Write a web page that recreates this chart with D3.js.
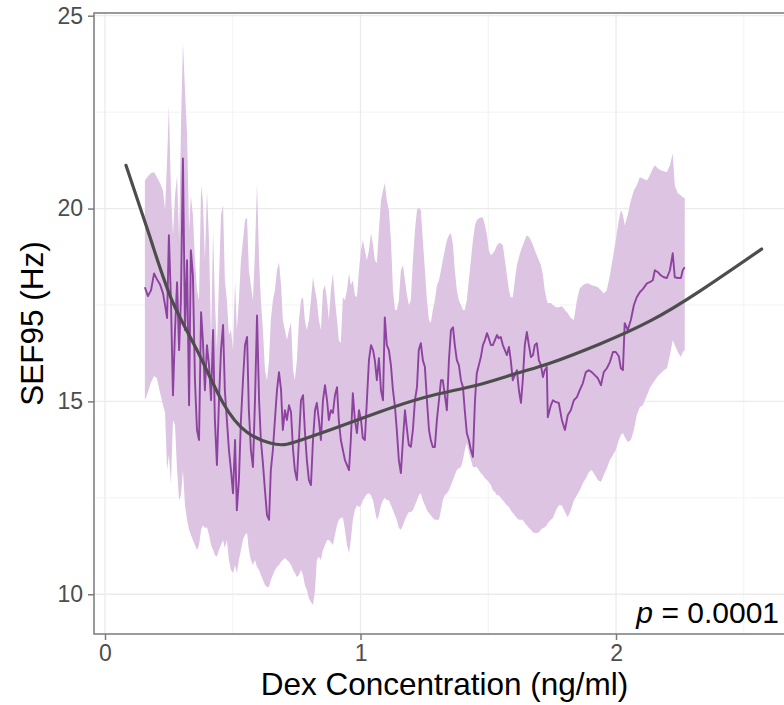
<!DOCTYPE html>
<html>
<head>
<meta charset="utf-8">
<script src="https://cdn.jsdelivr.net/npm/d3@7"></script>
<style>
  body { margin: 0; background: #fff; }
  svg { display: block; font-family: "Liberation Sans", Arial, Helvetica, sans-serif; }
</style>
</head>
<body>
<svg width="784" height="705"></svg>
<script>
// running SEF95 vs Dex concentration, with its band
var conc = [
  0.156, 0.168, 0.180, 0.192, 0.203, 0.215, 0.227, 0.235, 0.243, 0.250,
  0.258, 0.266, 0.274, 0.282, 0.290, 0.297, 0.305, 0.313, 0.321, 0.329,
  0.336, 0.344, 0.352, 0.360, 0.368, 0.376, 0.383, 0.391, 0.399, 0.407,
  0.415, 0.423, 0.430, 0.438, 0.446, 0.454, 0.462, 0.469, 0.477, 0.485,
  0.493, 0.501, 0.509, 0.516, 0.524, 0.532, 0.540, 0.548, 0.556, 0.563,
  0.571, 0.579, 0.587, 0.595, 0.603, 0.610, 0.618, 0.626, 0.634, 0.642,
  0.649, 0.657, 0.665, 0.673, 0.681, 0.689, 0.696, 0.704, 0.712, 0.720,
  0.728, 0.736, 0.743, 0.751, 0.759, 0.767, 0.775, 0.782, 0.790, 0.798,
  0.806, 0.814, 0.822, 0.829, 0.837, 0.845, 0.853, 0.861, 0.869, 0.876,
  0.884, 0.892, 0.900, 0.908, 0.915, 0.923, 0.931, 0.939, 0.947, 0.955,
  0.962, 0.970, 0.978, 0.986, 0.994, 1.002, 1.009, 1.017, 1.025, 1.033,
  1.041, 1.049, 1.056, 1.064, 1.072, 1.080, 1.088, 1.095, 1.103, 1.111,
  1.119, 1.127, 1.135, 1.142, 1.150, 1.158, 1.166, 1.174, 1.182, 1.189,
  1.197, 1.205, 1.213, 1.221, 1.228, 1.236, 1.244, 1.252, 1.260, 1.268,
  1.275, 1.283, 1.291, 1.299, 1.307, 1.315, 1.322, 1.330, 1.338, 1.346,
  1.354, 1.362, 1.369, 1.377, 1.385, 1.393, 1.401, 1.408, 1.416, 1.424,
  1.432, 1.440, 1.448, 1.455, 1.463, 1.471, 1.479, 1.487, 1.495, 1.502,
  1.510, 1.518, 1.526, 1.534, 1.541, 1.549, 1.557, 1.565, 1.573, 1.581,
  1.588, 1.596, 1.604, 1.612, 1.620, 1.628, 1.635, 1.643, 1.651, 1.659,
  1.667, 1.675, 1.682, 1.690, 1.698, 1.706, 1.714, 1.721, 1.729, 1.733,
  1.745, 1.753, 1.765, 1.776, 1.788, 1.800, 1.811, 1.823, 1.835, 1.847,
  1.858, 1.870, 1.882, 1.894, 1.905, 1.917, 1.929, 1.941, 1.952, 1.964,
  1.976, 1.988, 1.999, 2.011, 2.019, 2.027, 2.034, 2.046, 2.058, 2.070,
  2.081, 2.093, 2.105, 2.121, 2.132, 2.144, 2.152, 2.164, 2.175, 2.187,
  2.199, 2.211, 2.222, 2.230, 2.242, 2.254, 2.261, 2.269
];

var sef = [
  17.96, 17.73, 17.88, 18.32, 18.17, 18.04, 17.80, 17.50, 17.16, 19.31,
  17.62, 15.16, 16.85, 18.09, 16.33, 17.62, 21.30, 16.85, 18.66, 14.90,
  18.92, 18.27, 15.55, 14.26, 14.00, 17.31, 16.59, 15.29, 16.46, 15.94,
  15.03, 16.85, 14.52, 13.35, 15.03, 16.33, 16.98, 15.29, 14.52, 13.74,
  13.22, 12.62, 14.00, 12.18, 12.96, 14.52, 15.55, 16.46, 16.67, 14.77,
  13.74, 13.30, 15.03, 17.23, 15.03, 14.00, 13.40, 12.70, 12.05, 11.93,
  13.22, 13.74, 14.52, 15.29, 15.76, 15.29, 14.26, 14.77, 14.52, 14.90,
  14.72, 13.74, 13.22, 12.96, 14.00, 15.03, 15.16, 14.26, 13.48, 12.96,
  12.83, 14.00, 14.77, 14.96, 14.52, 14.00, 15.03, 15.42, 15.03, 14.52,
  14.77, 14.70, 15.16, 15.37, 14.52, 14.00, 13.74, 13.48, 13.35, 13.22,
  14.00, 15.21, 14.52, 14.18, 14.77, 14.52, 14.05, 14.00, 15.03, 16.07,
  16.46, 16.33, 16.07, 15.55, 16.12, 15.29, 15.03, 17.18, 16.46, 16.33,
  15.94, 15.29, 14.85, 14.26, 13.48, 13.14, 14.00, 14.77, 14.26, 13.87,
  13.82, 14.26, 15.03, 15.37, 16.33, 16.51, 16.07, 15.89, 15.03, 14.26,
  14.00, 13.82, 13.82, 14.52, 15.03, 15.55, 15.55, 15.16, 14.77, 16.07,
  16.85, 16.92, 16.46, 16.07, 15.94, 15.55, 15.37, 14.77, 14.18, 14.00,
  13.74, 13.56, 15.03, 15.73, 15.94, 16.15, 16.46, 16.59, 16.77, 16.64,
  16.46, 16.46, 16.59, 16.72, 16.64, 16.67, 16.46, 16.33, 16.20, 16.41,
  16.07, 15.55, 15.68, 15.81, 15.29, 14.96, 15.55, 16.46, 16.80, 16.46,
  16.15, 16.20, 16.46, 16.51, 16.07, 15.94, 15.63, 15.81, 15.89, 14.59,
  14.90, 15.03, 14.98, 14.96, 14.52, 14.26, 14.64, 14.77, 15.03, 15.11,
  15.29, 15.47, 15.76, 15.81, 15.76, 15.68, 15.60, 15.42, 15.76, 15.86,
  16.02, 16.28, 16.28, 16.17, 15.86, 15.81, 17.03, 16.85, 17.11, 17.50,
  17.70, 17.83, 17.91, 18.06, 18.09, 18.14, 18.40, 18.35, 18.27, 18.22,
  18.20, 18.40, 18.84, 18.22, 18.20, 18.20, 18.40, 18.48
];

var sefLo = [
  15.03, 15.24, 15.50, 15.66, 15.60, 15.24, 14.90, 14.72, 13.22, 13.61,
  12.88, 14.52, 14.39, 13.22, 12.44, 12.57, 13.22, 12.31, 11.93, 11.67,
  11.54, 11.41, 11.28, 11.15, 11.28, 11.67, 11.79, 11.72, 11.74, 11.54,
  11.28, 11.15, 11.02, 10.97, 11.15, 11.28, 11.41, 11.20, 11.41, 10.89,
  10.63, 10.55, 10.76, 10.55, 10.89, 11.15, 11.41, 11.54, 11.59, 11.15,
  10.89, 10.76, 10.89, 10.71, 10.63, 10.50, 10.37, 10.24, 10.19, 10.19,
  10.37, 10.50, 10.63, 10.71, 10.76, 10.84, 10.89, 10.94, 10.89, 10.84,
  10.76, 10.63, 10.55, 10.45, 10.50, 10.63, 10.50, 10.24, 10.11, 9.90,
  9.80, 9.72, 10.11, 10.89, 10.97, 10.89, 11.15, 11.28, 11.41, 11.41,
  11.35, 11.28, 11.54, 11.79, 11.93, 11.98, 12.00, 11.67, 11.28, 11.07,
  11.41, 11.93, 12.18, 12.31, 12.26, 12.31, 12.44, 12.52, 12.60, 12.62,
  12.57, 12.44, 12.18, 11.93, 12.05, 12.31, 12.44, 12.50, 12.44, 12.44,
  12.31, 12.18, 12.05, 11.93, 11.72, 11.67, 11.79, 11.93, 12.05, 12.13,
  12.13, 12.18, 12.31, 12.44, 12.57, 12.62, 12.44, 12.31, 12.18, 12.11,
  12.05, 11.98, 11.93, 11.93, 11.93, 12.18, 12.44, 12.57, 12.62, 12.70,
  12.83, 12.96, 13.09, 13.22, 13.27, 13.30, 13.48, 13.74, 13.92, 13.69,
  13.48, 13.30, 13.30, 13.30, 13.22, 13.14, 13.09, 13.01, 12.96, 12.91,
  12.83, 12.70, 12.65, 12.57, 12.57, 12.50, 12.44, 12.37, 12.31, 12.26,
  12.18, 12.11, 12.05, 11.98, 11.93, 11.93, 11.93, 11.85, 11.79, 11.72,
  11.67, 11.61, 11.59, 11.59, 11.61, 11.67, 11.72, 11.74, 11.79, 11.85,
  11.93, 11.98, 12.18, 12.31, 12.31, 12.13, 12.00, 12.18, 12.44, 12.57,
  12.70, 12.88, 13.01, 13.17, 13.22, 13.09, 12.96, 12.91, 13.09, 13.27,
  13.48, 13.61, 13.74, 14.00, 14.13, 14.18, 14.08, 13.95, 14.00, 14.26,
  14.64, 14.85, 14.90, 15.16, 15.34, 15.47, 15.55, 15.66, 15.73, 15.81,
  15.86, 16.20, 16.59, 16.46, 16.28, 16.15, 16.28, 16.33
];

var sefHi = [
  20.73, 20.84, 20.92, 20.94, 20.81, 20.66, 20.47, 19.96, 21.25, 22.68,
  20.47, 19.31, 20.34, 20.86, 19.18, 22.03, 24.31, 23.06, 21.95, 19.44,
  20.34, 19.83, 18.66, 17.88, 17.62, 20.60, 20.21, 18.66, 20.47, 19.18,
  16.59, 19.44, 17.62, 16.33, 18.14, 19.83, 20.09, 18.14, 17.62, 16.72,
  16.85, 16.33, 18.14, 16.85, 17.62, 18.66, 19.18, 19.70, 19.77, 18.40,
  18.01, 17.62, 18.92, 20.66, 18.66, 17.62, 16.85, 15.81, 15.55, 16.07,
  17.11, 17.62, 17.88, 18.40, 18.61, 18.01, 17.11, 16.85, 16.59, 16.85,
  17.05, 15.81, 15.55, 16.07, 17.11, 17.62, 17.70, 17.11, 16.85, 17.11,
  17.62, 18.22, 17.88, 17.62, 17.11, 16.85, 17.88, 18.01, 17.62, 17.11,
  17.88, 18.32, 17.62, 17.11, 16.59, 16.51, 17.70, 17.62, 17.88, 18.32,
  18.01, 18.14, 17.75, 17.70, 18.40, 18.92, 19.18, 18.92, 18.66, 18.92,
  19.36, 19.05, 18.66, 18.58, 19.44, 20.21, 20.47, 20.66, 20.21, 19.96,
  19.18, 17.88, 17.37, 17.37, 17.62, 18.40, 18.53, 18.14, 17.75, 17.50,
  17.62, 18.66, 19.44, 19.96, 20.03, 19.96, 19.18, 18.40, 17.62, 17.11,
  17.03, 17.37, 17.62, 18.01, 18.14, 18.40, 18.66, 18.92, 19.18, 19.31,
  19.36, 19.05, 18.40, 17.88, 17.62, 17.50, 17.37, 17.37, 17.62, 18.14,
  18.66, 19.18, 19.57, 19.70, 19.75, 19.77, 19.77, 19.57, 19.31, 18.92,
  18.79, 18.84, 18.92, 19.05, 19.10, 19.10, 19.05, 18.66, 18.27, 17.88,
  17.70, 17.70, 18.14, 18.53, 18.74, 18.92, 19.05, 19.18, 19.31, 19.26,
  19.18, 19.05, 18.92, 18.79, 18.66, 18.53, 18.27, 17.88, 17.62, 17.55,
  17.55, 17.50, 17.44, 17.44, 17.47, 17.37, 17.29, 17.16, 17.11, 17.62,
  17.93, 18.01, 18.06, 18.06, 18.01, 17.99, 17.96, 17.88, 17.80, 17.88,
  18.27, 18.74, 19.18, 19.70, 19.96, 19.83, 19.57, 19.83, 20.21, 20.47,
  20.60, 20.81, 20.78, 20.73, 20.86, 21.04, 21.12, 21.04, 20.99, 20.97,
  20.94, 21.12, 21.43, 20.60, 20.40, 20.34, 20.29, 20.27
];

// smooth fit
var fitConc = [0.082, 0.176, 0.262, 0.360, 0.462, 0.556, 0.646, 0.712, 0.790, 0.880,
  1.009, 1.127, 1.283, 1.455, 1.612, 1.741, 1.937, 2.132, 2.328, 2.570];
var fitSef = [21.12, 19.26, 17.62, 16.33, 14.96, 14.20, 13.92, 13.89, 14.05, 14.26,
  14.57, 14.85, 15.16, 15.42, 15.73, 15.99, 16.49, 17.08, 17.86, 18.95];

var xTicks = [0, 1, 2];
var xMinor = [0.5, 1.5, 2.5];
var yTicks = [10, 15, 20, 25];
var yMinor = [12.5, 17.5, 22.5];
var pLabel = "0.0001";

var svg = d3.select("svg"),
    width = +svg.attr("width"),
    height = +svg.attr("height");

var panel = {left: 94, top: 13, right: 795, bottom: 634};

var x = d3.scaleLinear()
    .domain([-0.0431, 2.7005])
    .range([panel.left, panel.right]);

var y = d3.scaleLinear()
    .domain([8.97, 25.07])
    .range([panel.bottom, panel.top]);

// grid
var grid = svg.append("g");

grid.selectAll(".vminor")
  .data(xMinor)
  .enter().append("line")
    .attr("x1", function(d) { return x(d); })
    .attr("x2", function(d) { return x(d); })
    .attr("y1", panel.top)
    .attr("y2", panel.bottom)
    .attr("stroke", "#f2f2f2")
    .attr("stroke-width", 0.9);

grid.selectAll(".hminor")
  .data(yMinor)
  .enter().append("line")
    .attr("x1", panel.left)
    .attr("x2", panel.right)
    .attr("y1", function(d) { return y(d); })
    .attr("y2", function(d) { return y(d); })
    .attr("stroke", "#f2f2f2")
    .attr("stroke-width", 0.9);

grid.selectAll(".vmajor")
  .data(xTicks)
  .enter().append("line")
    .attr("x1", function(d) { return x(d); })
    .attr("x2", function(d) { return x(d); })
    .attr("y1", panel.top)
    .attr("y2", panel.bottom)
    .attr("stroke", "#ebebeb")
    .attr("stroke-width", 1.3);

grid.selectAll(".hmajor")
  .data(yTicks)
  .enter().append("line")
    .attr("x1", panel.left)
    .attr("x2", panel.right)
    .attr("y1", function(d) { return y(d); })
    .attr("y2", function(d) { return y(d); })
    .attr("stroke", "#ebebeb")
    .attr("stroke-width", 1.3);

var idx = d3.range(conc.length);

var band = d3.area()
    .x(function(i) { return x(conc[i]); })
    .y0(function(i) { return y(sefLo[i]); })
    .y1(function(i) { return y(sefHi[i]); });

svg.append("path")
    .datum(idx)
    .attr("d", band)
    .attr("fill", "#dcc4e2");

var line = d3.line()
    .x(function(i) { return x(conc[i]); })
    .y(function(i) { return y(sef[i]); });

svg.append("path")
    .datum(idx)
    .attr("d", line)
    .attr("fill", "none")
    .attr("stroke", "#8e42a0")
    .attr("stroke-width", 1.9)
    .attr("stroke-linejoin", "round");

var fit = d3.line()
    .curve(d3.curveNatural)
    .x(function(d, i) { return x(fitConc[i]); })
    .y(function(d) { return y(d); });

svg.append("path")
    .datum(fitSef)
    .attr("d", fit)
    .attr("fill", "none")
    .attr("stroke", "#4d4d4d")
    .attr("stroke-width", 3.2)
    .attr("stroke-linecap", "round");

// panel border
svg.append("rect")
    .attr("x", panel.left)
    .attr("y", panel.top)
    .attr("width", panel.right - panel.left)
    .attr("height", panel.bottom - panel.top)
    .attr("fill", "none")
    .attr("stroke", "#7a7a7a")
    .attr("stroke-width", 1.5);

// axes
var xAxis = svg.append("g")
    .attr("transform", "translate(0," + panel.bottom + ")")
    .call(d3.axisBottom(x).tickValues(xTicks).tickFormat(d3.format("d")).tickSize(6).tickPadding(5));

var yAxis = svg.append("g")
    .attr("transform", "translate(" + panel.left + ",0)")
    .call(d3.axisLeft(y).tickValues(yTicks).tickFormat(d3.format("d")).tickSize(6).tickPadding(5));

[xAxis, yAxis].forEach(function(g) {
  g.attr("font-family", null).attr("font-size", 23);
  g.select(".domain").remove();
  g.selectAll(".tick line").attr("stroke", "#7a7a7a").attr("stroke-width", 1.5);
  g.selectAll(".tick text").attr("fill", "#4d4d4d");
});

// titles
svg.append("text")
    .attr("x", (panel.left + panel.right) / 2)
    .attr("y", 695)
    .attr("text-anchor", "middle")
    .attr("font-size", 31.5)
    .attr("fill", "#000")
    .text("Dex Concentration (ng/ml)");

svg.append("text")
    .attr("transform", "translate(43," + (panel.top + panel.bottom) / 2 + ") rotate(-90)")
    .attr("text-anchor", "middle")
    .attr("font-size", 31.5)
    .attr("fill", "#000")
    .text("SEF95 (Hz)");

var pText = svg.append("text")
    .attr("x", 779)
    .attr("y", 623)
    .attr("text-anchor", "end")
    .attr("font-size", 30)
    .attr("fill", "#000");
pText.append("tspan").attr("font-style", "italic").text("p");
pText.append("tspan").text(" = " + pLabel);
</script>
</body>
</html>
